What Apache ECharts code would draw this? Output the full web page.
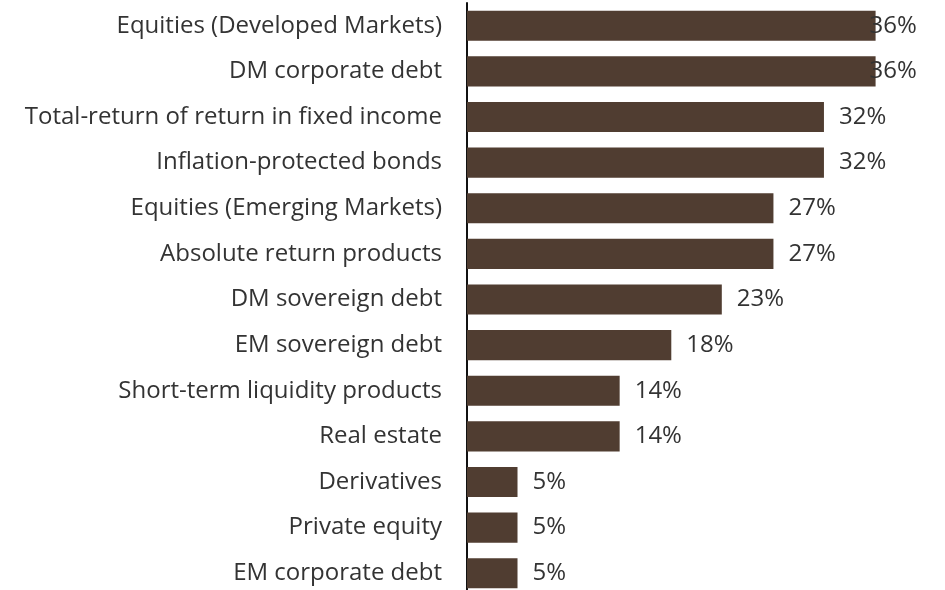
<!DOCTYPE html>
<html>
<head>
<meta charset="utf-8">
<script src="https://cdn.jsdelivr.net/npm/echarts@6/dist/echarts.min.js"></script>
<style>
  html, body { margin: 0; padding: 0; background: #fff; }
  #chart { width: 945px; height: 590px; }
</style>
</head>
<body>
<div id="chart"></div>
<script>
// categories, top to bottom
const categories = [
  'Equities (Developed Markets)',
  'DM corporate debt',
  'Total-return of return in fixed income',
  'Inflation-protected bonds',
  'Equities (Emerging Markets)',
  'Absolute return products',
  'DM sovereign debt',
  'EM sovereign debt',
  'Short-term liquidity products',
  'Real estate',
  'Derivatives',
  'Private equity',
  'EM corporate debt'
]

// share of respondents, %
const shares = [36.4, 36.4, 31.8, 31.8, 27.3, 27.3, 22.7, 18.2, 13.6, 13.6, 4.5, 4.5, 4.5]

const chart = echarts.init(document.getElementById('chart'))

const fontFamily = '"Open Sans", "Noto Sans", sans-serif'

const option = {
  animation: false,
  grid: {
    left: 467,
    top: 3,
    width: 449,
    height: 593,
    outerBoundsMode: 'none'
  },
  xAxis: {
    type: 'value',
    min: 0,
    max: 40,
    show: false
  },
  yAxis: {
    type: 'category',
    inverse: true,
    data: categories,
    axisLine: { show: true, lineStyle: { color: '#111', width: 2 } },
    axisTick: { show: false },
    axisLabel: {
      margin: 25,
      fontSize: 24,
      color: '#333',
      fontFamily
    }
  },
  series: [
    {
      type: 'bar',
      data: shares.map((v, i) => ({
        value: v,
        label: i < 2 ? { distance: -6 } : undefined
      })),
      barCategoryGap: '34%',
      itemStyle: { color: '#503d31' },
      label: {
        show: true,
        position: 'right',
        distance: 15,
        fontSize: 24,
        color: '#333',
        fontFamily,
        formatter: p => Math.round(p.value) + '%'
      }
    }
  ]
}

chart.setOption(option)
</script>
</body>
</html>
